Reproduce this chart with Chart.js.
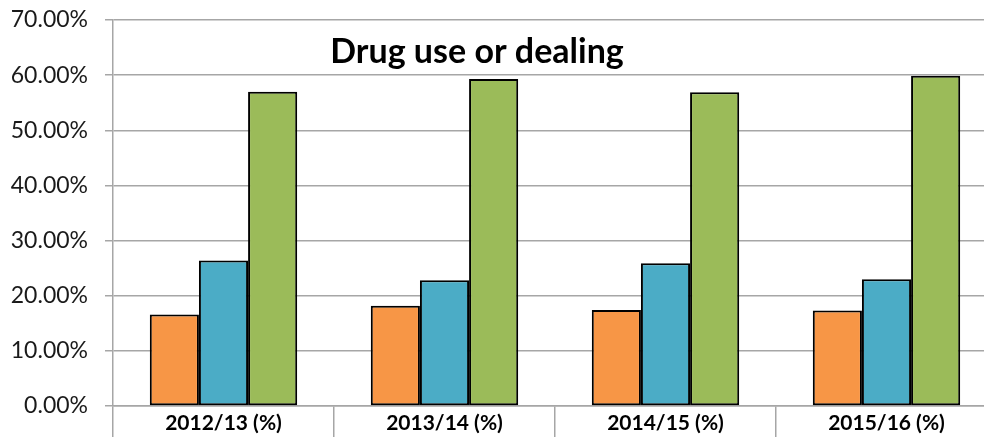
<!DOCTYPE html>
<html>
<head>
<meta charset="utf-8">
<script src="https://cdn.jsdelivr.net/npm/chart.js@4"></script>
<style>
html,body{margin:0;padding:0;overflow:hidden;background:#fff;}
#wrap{width:1000px;height:437px;}
</style>
</head>
<body>
<div id="wrap"><canvas id="c" width="1000" height="437"></canvas></div>
<script>
const chartTitle = "Drug use or dealing";
const categories = ["2012/13 (%)", "2013/14 (%)", "2014/15 (%)", "2015/16 (%)"];
const seriesA = [16.6, 18.2, 17.4, 17.3];
const seriesB = [26.4, 22.8, 25.9, 23.0];
const seriesC = [57.0, 59.3, 56.9, 59.9];
const yTicks = [0, 10, 20, 30, 40, 50, 60, 70];

const titlePlugin = {
  id: 'innerTitle',
  afterDraw(chart) {
    const ctx = chart.ctx;
    ctx.save();
    ctx.font = 'bold 34px Lato';
    ctx.fillStyle = '#000';
    ctx.textAlign = 'center';
    ctx.textBaseline = 'middle';
    ctx.fillText(chartTitle, 477, 52);
    ctx.restore();
  }
};

const gridColor = '#a6a6a6';
const mk = (data, color) => ({
  data, backgroundColor: color, borderColor: '#000', borderWidth: 2,
  borderSkipped: false, categoryPercentage: 0.667, barPercentage: 1
});

new Chart(document.getElementById('c'), {
  type: 'bar',
  data: {
    labels: categories,
    datasets: [mk(seriesA, '#F79646'), mk(seriesB, '#4BACC6'), mk(seriesC, '#9BBB59')]
  },
  plugins: [titlePlugin],
  options: {
    responsive: false,
    animation: false,
    layout: { padding: { top: 20, right: 3, left: 0, bottom: 0 } },
    plugins: { legend: { display: false }, tooltip: { enabled: false }, title: { display: false } },
    scales: {
      y: {
        min: 0, max: 70,
        afterFit(s) { s.width = 113; s.paddingTop = 0; s.paddingBottom = 0; },
        afterBuildTicks(s) { s.ticks = yTicks.map(v => ({ value: v })); },
        ticks: {
          callback: v => v.toFixed(2) + '%',
          font: { family: 'Lato', size: 23 }, color: '#1a1a1a', padding: 17
        },
        grid: { color: gridColor, lineWidth: 1.5, tickLength: 8 },
        border: { color: gridColor, width: 1.5 }
      },
      x: {
        afterFit(s) { s.height = 31; s.paddingLeft = 0; s.paddingRight = 0; },
        ticks: {
          font: { family: 'Lato', size: 21, weight: 'bold' }, color: '#000', padding: -26
        },
        grid: { offset: true, drawOnChartArea: false, color: gridColor, lineWidth: 1.5, tickLength: 31 },
        border: { color: gridColor, width: 1.5 }
      }
    }
  }
});
</script>
</body>
</html>
